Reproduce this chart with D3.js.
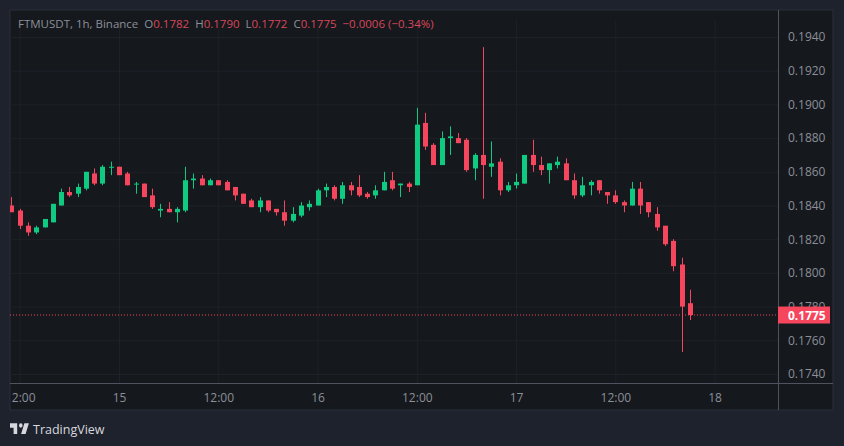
<!DOCTYPE html>
<meta charset="utf-8">
<style>
  html, body { margin: 0; padding: 0; background: #1e222d; overflow: hidden; }
  text { font-family: "Open Sans", sans-serif; }
</style>
<script src="https://d3js.org/d3.v7.min.js"></script>
<div id="chart"></div>
<script>
// candle values, one hour each, first candle is 11:00 on the 14th
var opens = [0.1840,0.1837,0.1828,0.1824,0.1827,0.1830,0.1840,0.1848,0.1847,0.1850,0.1859,0.1853,0.1863,0.1863,0.1859,0.1853,0.1853,0.1846,0.1837,0.1838,0.1836,0.1837,0.1855,0.1856,0.1852,0.1855,0.1854,0.1851,0.1847,0.1843,0.1839,0.1843,0.1838,0.1836,0.1831,0.1834,0.1839,0.1840,0.1849,0.1851,0.1844,0.1852,0.1851,0.1847,0.1846,0.1849,0.1855,0.1852,0.1853,0.1852,0.1889,0.1876,0.1864,0.1880,0.1880,0.1879,0.1862,0.1870,0.1863,0.1866,0.1849,0.1852,0.1853,0.1870,0.1864,0.1861,0.1864,0.1865,0.1855,0.1846,0.1852,0.1855,0.1848,0.1846,0.1842,0.1840,0.1850,0.1842,0.1835,0.1828,0.1819,0.1805,0.1782];
var highs = [0.1845,0.1838,0.1830,0.1828,0.1832,0.1841,0.1850,0.1851,0.1853,0.1860,0.1862,0.1864,0.1866,0.1863,0.1860,0.1854,0.1853,0.1850,0.1841,0.1842,0.1839,0.1863,0.1859,0.1858,0.1856,0.1855,0.1855,0.1851,0.1847,0.1844,0.1845,0.1843,0.1838,0.1843,0.1839,0.1842,0.1843,0.1850,0.1853,0.1852,0.1854,0.1854,0.1858,0.1848,0.1852,0.1860,0.1860,0.1853,0.1854,0.1898,0.1895,0.1877,0.1884,0.1887,0.1883,0.1880,0.1871,0.1934,0.1878,0.1868,0.1854,0.1859,0.1870,0.1879,0.1869,0.1865,0.1869,0.1868,0.1859,0.1857,0.1855,0.1855,0.1848,0.1849,0.1843,0.1854,0.1854,0.1842,0.1839,0.1828,0.1820,0.1809,0.1790];
var lows = [0.1836,0.1826,0.1822,0.1823,0.1827,0.1830,0.1840,0.1845,0.1845,0.1849,0.1852,0.1852,0.1858,0.1858,0.1852,0.1847,0.1845,0.1838,0.1833,0.1836,0.1830,0.1836,0.1850,0.1852,0.1852,0.1852,0.1849,0.1843,0.1841,0.1839,0.1836,0.1836,0.1834,0.1828,0.1830,0.1833,0.1837,0.1840,0.1845,0.1843,0.1841,0.1846,0.1845,0.1844,0.1844,0.1849,0.1849,0.1845,0.1848,0.1852,0.1873,0.1864,0.1864,0.1870,0.1877,0.1860,0.1855,0.1844,0.1857,0.1846,0.1848,0.1850,0.1853,0.1860,0.1858,0.1853,0.1862,0.1855,0.1844,0.1845,0.1846,0.1847,0.1841,0.1841,0.1836,0.1840,0.1835,0.1833,0.1825,0.1816,0.1801,0.1753,0.1772];
var closes = [0.1836,0.1828,0.1824,0.1827,0.1832,0.1841,0.1848,0.1846,0.1851,0.1860,0.1853,0.1863,0.1863,0.1858,0.1852,0.1853,0.1845,0.1839,0.1838,0.1836,0.1838,0.1855,0.1856,0.1852,0.1855,0.1852,0.1849,0.1846,0.1841,0.1839,0.1843,0.1837,0.1836,0.1831,0.1835,0.1840,0.1841,0.1849,0.1851,0.1844,0.1852,0.1849,0.1846,0.1845,0.1849,0.1854,0.1850,0.1853,0.1851,0.1888,0.1875,0.1864,0.1880,0.1881,0.1877,0.1861,0.1870,0.1864,0.1865,0.1849,0.1852,0.1854,0.1870,0.1864,0.1861,0.1865,0.1866,0.1855,0.1846,0.1852,0.1854,0.1849,0.1846,0.1842,0.1840,0.1850,0.1840,0.1836,0.1827,0.1817,0.1804,0.1780,0.1775];

var priceTicks = [0.1740,0.1760,0.1780,0.1800,0.1820,0.1840,0.1860,0.1880,0.1900,0.1920,0.1940];
var timeTicks = [1,13,25,37,49,61,73,85];
var timeLabels = ["12:00","15","12:00","16","12:00","17","12:00","18"];
var lastPrice = 0.1775;
var legendParts = [
  {t: "FTMUSDT, 1h, Binance", up: false},
  {t: "  O", up: false}, {t: "0.1782", up: true},
  {t: "  H", up: false}, {t: "0.1790", up: true},
  {t: "  L", up: false}, {t: "0.1772", up: true},
  {t: "  C", up: false}, {t: "0.1775", up: true},
  {t: "  \u22120.0006 (\u22120.34%)", up: true}
];

var W = 844, H = 446;
var pane = {left: 10, top: 10, right: 778, bottom: 383};
var outer = {right: 833, bottom: 410};
var green = "#0ecb81", red = "#f6465d";
var bg = "#15181d", axisColor = "#50535e", textColor = "#8b8f98";

var svg = d3.select("#chart").append("svg").attr("width", W).attr("height", H).style("display", "block");

svg.append("rect").attr("width", W).attr("height", H).attr("fill", "#1e222d");
svg.append("rect")
  .attr("x", pane.left).attr("y", pane.top)
  .attr("width", outer.right - pane.left).attr("height", outer.bottom - pane.top)
  .attr("fill", bg).attr("stroke", "#2a2e39");

var x = d3.scaleLinear().domain([13, 82]).range([119, 689.8]);
var y = d3.scaleLinear().domain([0.1740, 0.1940]).range([374, 37]);

svg.append("clipPath").attr("id", "paneClip").append("rect")
  .attr("x", pane.left).attr("y", pane.top)
  .attr("width", pane.right - pane.left).attr("height", outer.bottom - pane.top);

// grid
svg.append("g")
  .attr("transform", "translate(" + pane.left + ",0)")
  .call(d3.axisRight(y).tickValues(priceTicks).tickSize(pane.right - pane.left).tickFormat(""))
  .call(function(g) { g.select(".domain").remove(); })
  .selectAll("line").attr("stroke", "#1e2127");
svg.append("g")
  .attr("transform", "translate(0," + pane.top + ")")
  .attr("clip-path", "url(#paneClip)")
  .call(d3.axisBottom(x).tickValues(timeTicks).tickSize(pane.bottom - pane.top).tickFormat(""))
  .call(function(g) { g.select(".domain").remove(); })
  .selectAll("line").attr("stroke", "#1e2127");

// candles
var idx = d3.range(opens.length);
var candles = svg.append("g").attr("clip-path", "url(#paneClip)").selectAll("g").data(idx).join("g");
function col(i) { return closes[i] >= opens[i] ? green : red; }
candles.append("line")
  .attr("x1", function(i) { return Math.round(x(i)) + 0.5; })
  .attr("x2", function(i) { return Math.round(x(i)) + 0.5; })
  .attr("y1", function(i) { return y(highs[i]); })
  .attr("y2", function(i) { return y(lows[i]); })
  .attr("stroke", col);
candles.append("rect")
  .attr("x", function(i) { return Math.round(x(i)) - 2; })
  .attr("width", 5)
  .attr("y", function(i) { return y(Math.max(opens[i], closes[i])); })
  .attr("height", function(i) { return Math.max(1, Math.abs(y(opens[i]) - y(closes[i]))); })
  .attr("fill", col);

// last price line
svg.append("line")
  .attr("x1", pane.left).attr("x2", pane.right)
  .attr("y1", y(lastPrice)).attr("y2", y(lastPrice))
  .attr("stroke", red).attr("stroke-dasharray", "1 2");

// axes
svg.append("line").attr("x1", pane.left).attr("x2", outer.right).attr("y1", pane.bottom + 0.5).attr("y2", pane.bottom + 0.5).attr("stroke", axisColor);
svg.append("line").attr("x1", pane.right + 0.5).attr("x2", pane.right + 0.5).attr("y1", pane.top).attr("y2", outer.bottom).attr("stroke", axisColor);

var yAxis = svg.append("g")
  .attr("transform", "translate(" + pane.right + ",0)")
  .call(d3.axisRight(y).tickValues(priceTicks).tickSize(0).tickPadding(10).tickFormat(d3.format(".4f")));
yAxis.select(".domain").remove();
yAxis.selectAll("text").attr("fill", textColor).attr("font-size", 12).attr("font-family", "\"Open Sans\", sans-serif");

var xAxis = svg.append("g")
  .attr("transform", "translate(0," + pane.bottom + ")")
  .attr("clip-path", "url(#timeClip)")
  .call(d3.axisBottom(x).tickValues(timeTicks).tickSize(0).tickPadding(10).tickFormat(function(d, i) { return timeLabels[i]; }));
xAxis.select(".domain").remove();
xAxis.selectAll("text").attr("fill", textColor).attr("font-size", 12).attr("font-family", "\"Open Sans\", sans-serif");
svg.append("clipPath").attr("id", "timeClip").append("rect")
  .attr("x", pane.left).attr("y", 0).attr("width", pane.right - pane.left).attr("height", 30);

// last price tag
svg.append("rect")
  .attr("x", pane.right).attr("y", y(lastPrice) - 8.5)
  .attr("width", 52).attr("height", 17).attr("fill", red);
svg.append("text")
  .attr("x", pane.right + 10).attr("y", y(lastPrice) + 4.5)
  .attr("fill", "#fff").attr("font-size", 12).attr("font-weight", 700)
  .text(d3.format(".4f")(lastPrice));

// legend
var legend = svg.append("text").attr("x", 18).attr("y", 28).attr("font-size", 11.5).attr("xml:space", "preserve");
legend.selectAll("tspan").data(legendParts).join("tspan")
  .attr("fill", function(d) { return d.up ? "#d9475a" : textColor; })
  .text(function(d) { return d.t; });

// logo
svg.append("path")
  .attr("transform", "translate(8.8,419) scale(0.6,0.72)")
  .attr("d", "M14 6H2v6h6v9h6V6zm14 15h-7.5L26 6h7.5L28 21zm-8-15a3 3 0 1 1 0 6 3 3 0 0 1 0-6z")
  .attr("fill", "#d6d8de");
svg.append("text").attr("x", 33).attr("y", 433.5).attr("fill", "#d6d8de").attr("font-size", 12.5).text("TradingView");
</script>
